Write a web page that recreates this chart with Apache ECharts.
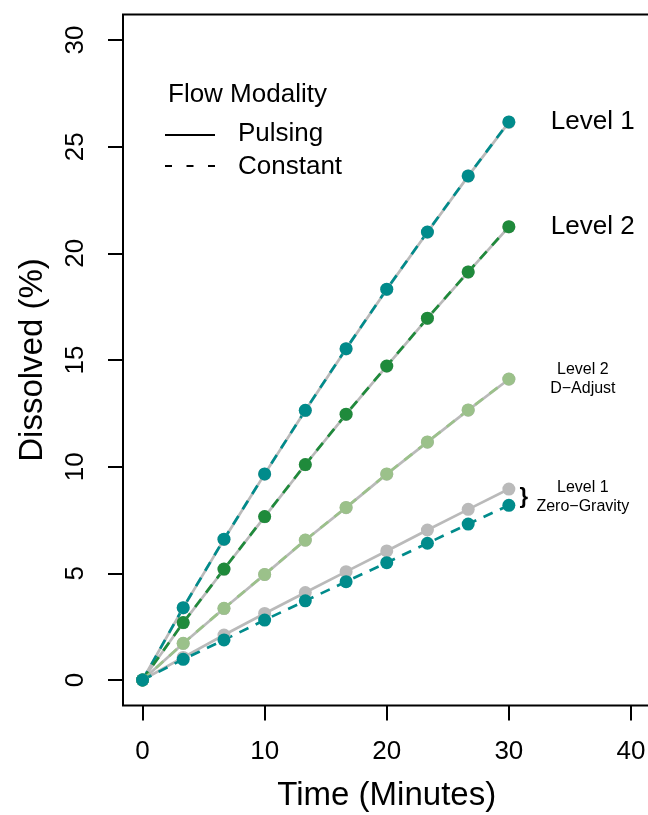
<!DOCTYPE html>
<html>
<head>
<meta charset="utf-8">
<script src="https://cdn.jsdelivr.net/npm/echarts@6/dist/echarts.min.js"></script>
<style>
html,body{margin:0;padding:0;background:#fff;}
#chart{width:648px;height:815px;}
</style>
</head>
<body>
<div id="chart"></div>
<script>
// ---- data ----
const minutes = [0, 3.33, 6.67, 10, 13.33, 16.67, 20, 23.33, 26.67, 30];
const xTicks = [0, 10, 20, 30, 40];
const yTicks = [0, 5, 10, 15, 20, 25, 30];

const level1Pulsing  = [0, 3.38, 6.59, 9.65, 12.63, 15.52, 18.31, 20.99, 23.62, 26.14];
const level1Constant = [0, 3.39, 6.60, 9.66, 12.64, 15.53, 18.32, 21.00, 23.63, 26.16];
const level2Pulsing  = [0, 2.68, 5.19, 7.65, 10.09, 12.45, 14.71, 16.95, 19.12, 21.24];
const level2Constant = [0, 2.69, 5.20, 7.66, 10.10, 12.46, 14.72, 16.96, 19.13, 21.25];
const dAdjPulsing    = [0, 1.71, 3.35, 4.94, 6.55, 8.08, 9.65, 11.15, 12.65, 14.10];
const dAdjConstant   = [0, 1.72, 3.36, 4.95, 6.56, 8.09, 9.66, 11.16, 12.66, 14.11];
const zeroGPulsing   = [0, 1.06, 2.11, 3.12, 4.10, 5.08, 6.05, 7.03, 8.00, 8.95];
const zeroGConstant  = [0, 0.97, 1.88, 2.81, 3.71, 4.61, 5.50, 6.41, 7.31, 8.19];

const GREY = '#bababa';
const TEAL = '#008b8b';
const DKGREEN = '#1f8a3b';
const LTGREEN = '#9bc18a';
const FONT = '"Liberation Sans", Arial, Helvetica, sans-serif';

function pairs(ys){ return minutes.map((x,i)=>[x, ys[i]]); }

function pulsing(name, ys){
  return {
    name: name, type: 'line', data: pairs(ys),
    symbol: 'circle', symbolSize: 13,
    itemStyle: {color: GREY},
    lineStyle: {color: GREY, width: 2.7, type: 'solid'},
    emphasis: {disabled: true}
  };
}
function constant(name, ys, color){
  return {
    name: name, type: 'line', data: pairs(ys),
    symbol: 'circle', symbolSize: 13,
    itemStyle: {color: color},
    lineStyle: {color: color, width: 2.7, type: [10, 8]},
    emphasis: {disabled: true}
  };
}

const chart = echarts.init(document.getElementById('chart'), null, {renderer: 'canvas'});

const option = {
  animation: false,
  backgroundColor: '#fff',
  textStyle: {fontFamily: FONT},
  grid: {
    left: 123, top: 14.4, width: 527.5, height: 691.2,
    outerBoundsMode: 'none', containLabel: false,
    show: true, borderColor: '#000', borderWidth: 2, backgroundColor: 'transparent'
  },
  xAxis: {
    type: 'value', min: -1.6, max: 41.6,
    axisLine: {show: false, onZero: false},
    splitLine: {show: false},
    axisTick: {show: true, customValues: xTicks, length: 15, inside: false,
      lineStyle: {color: '#000', width: 2}},
    axisLabel: {show: true, customValues: xTicks, margin: 33,
      fontSize: 26, color: '#000', fontFamily: FONT},
    name: 'Time (Minutes)', nameLocation: 'middle', nameGap: 74,
    nameTextStyle: {fontSize: 33, color: '#000', fontFamily: FONT}
  },
  yAxis: {
    type: 'value', min: -1.2, max: 31.2,
    axisLine: {show: false, onZero: false},
    splitLine: {show: false},
    axisTick: {show: true, customValues: yTicks, length: 15, inside: false,
      lineStyle: {color: '#000', width: 2}},
    axisLabel: {show: true, customValues: yTicks, margin: 34, rotate: 90,
      fontSize: 26, color: '#000', fontFamily: FONT},
    name: 'Dissolved (%)', nameLocation: 'middle', nameGap: 74,
    nameTextStyle: {fontSize: 33, color: '#000', fontFamily: FONT}
  },
  series: [
    pulsing('Level 1 Pulsing', level1Pulsing),
    pulsing('Level 2 Pulsing', level2Pulsing),
    pulsing('Level 2 D-Adjust Pulsing', dAdjPulsing),
    pulsing('Level 1 Zero-Gravity Pulsing', zeroGPulsing),
    constant('Level 1 Constant', level1Constant, TEAL),
    constant('Level 2 Constant', level2Constant, DKGREEN),
    constant('Level 2 D-Adjust Constant', dAdjConstant, LTGREEN),
    constant('Level 1 Zero-Gravity Constant', zeroGConstant, TEAL)
  ]
};
chart.setOption(option);

// ---- annotations placed through the chart's own scales ----
const last = minutes.length - 1;
const px = (x, y) => chart.convertToPixel({gridIndex: 0}, [x, y]);
const pL1 = px(minutes[last], level1Constant[last]);
const pL2 = px(minutes[last], level2Constant[last]);
const pDA = px(minutes[last], dAdjConstant[last]);
const pZGa = px(minutes[last], zeroGPulsing[last]);
const pZGb = px(minutes[last], zeroGConstant[last]);
const zgMid = (pZGa[1] + pZGb[1]) / 2;

function txt(text, x, y, size, align, extra){
  return Object.assign({
    type: 'text', z: 100,
    style: {text: text, x: x, y: y, fill: '#000',
      font: size + 'px ' + FONT,
      align: align, verticalAlign: 'middle',
      textAlign: align, textVerticalAlign: 'middle'}
  }, extra || {});
}

const graphics = [
  // legend
  txt('Flow Modality', 168, 95, 26, 'left'),
  {type: 'line', z: 100, shape: {x1: 165, y1: 135, x2: 215, y2: 135},
    style: {stroke: '#000', lineWidth: 2}},
  txt('Pulsing', 238, 134, 26, 'left'),
  {type: 'line', z: 100, shape: {x1: 165, y1: 166, x2: 215, y2: 166},
    style: {stroke: '#000', lineWidth: 2, lineDash: [7, 14.5]}},
  txt('Constant', 238, 167, 26, 'left'),
  // level labels
  txt('Level 1', pL1[0] + 42, pL1[1], 26, 'left'),
  txt('Level 2', pL2[0] + 42, pL2[1], 26, 'left'),
  {type: 'text', z: 100, style: {text: 'Level 2\nD\u2212Adjust', x: pDA[0] + 74, y: pDA[1],
    fill: '#000', font: '16px ' + FONT, lineHeight: 19,
    align: 'center', verticalAlign: 'middle', textAlign: 'center', textVerticalAlign: 'middle'}},
  {type: 'text', z: 100, style: {text: 'Level 1\nZero\u2212Gravity', x: pZGa[0] + 74, y: zgMid,
    fill: '#000', font: '16px ' + FONT, lineHeight: 19,
    align: 'center', verticalAlign: 'middle', textAlign: 'center', textVerticalAlign: 'middle'}},
  txt('}', pZGa[0] + 15, zgMid, 'bold 22', 'center')
];
chart.setOption({graphic: {elements: graphics}});
</script>
</body>
</html>
